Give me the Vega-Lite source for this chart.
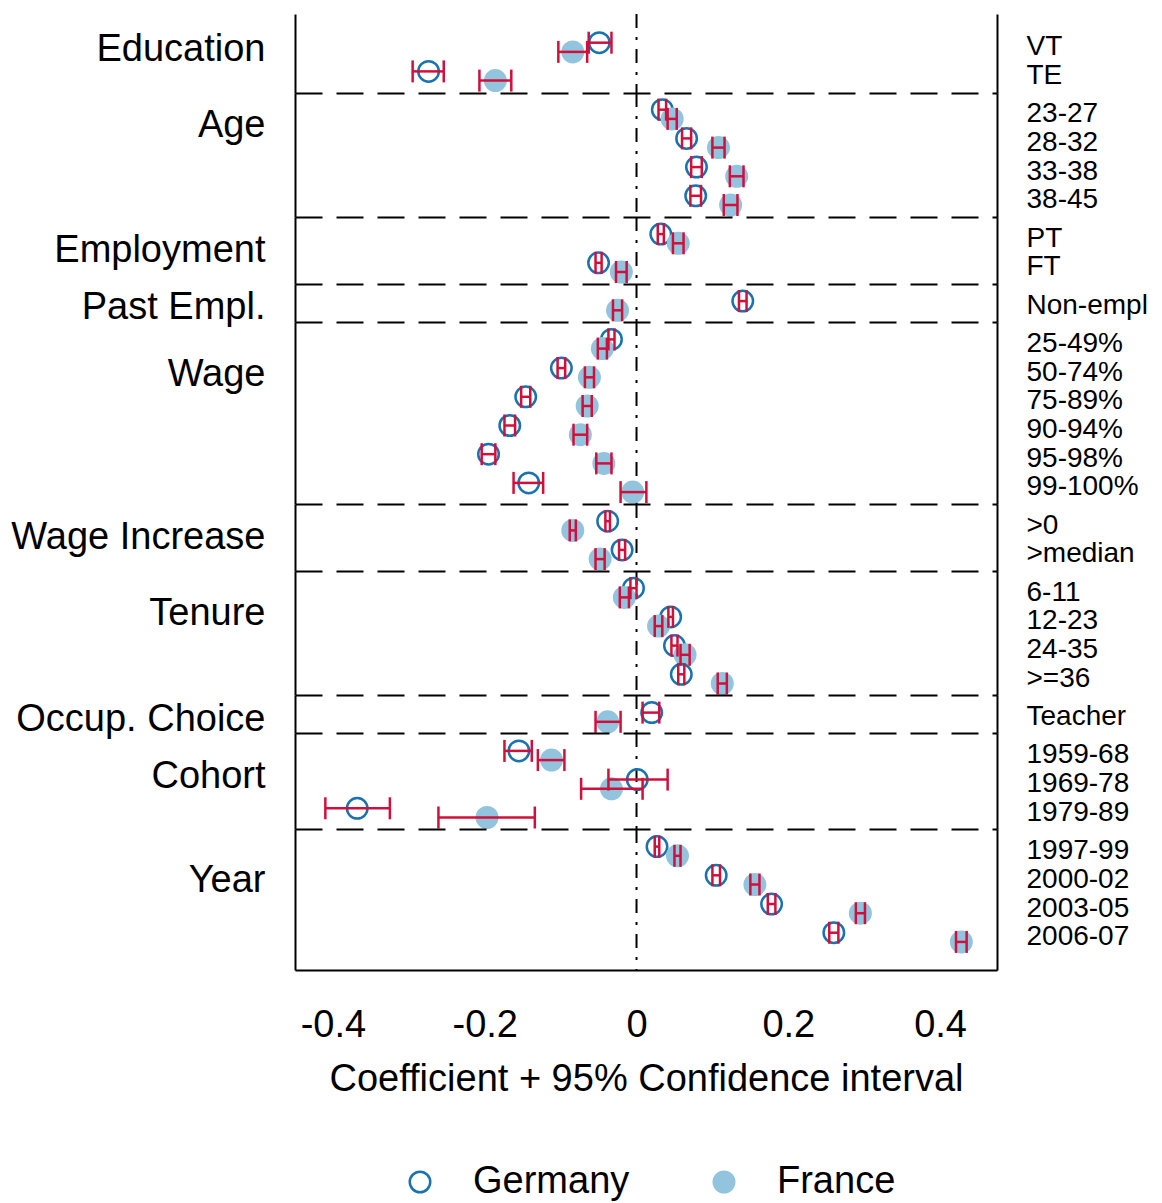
{
"$schema": "https://vega.github.io/schema/vega-lite/v6.json",
"padding": {"left": 10, "top": 13, "right": 0, "bottom": 0},
"background": "white",
"data": {"values": [
{"group":"Education","var":"VT","country":"Germany","coef":-0.049,"lo":-0.063,"hi":-0.033},
{"group":"Education","var":"VT","country":"France","coef":-0.084,"lo":-0.103,"hi":-0.065},
{"group":"Education","var":"TE","country":"Germany","coef":-0.274,"lo":-0.295,"hi":-0.254},
{"group":"Education","var":"TE","country":"France","coef":-0.186,"lo":-0.207,"hi":-0.165},
{"group":"Age","var":"23-27","country":"Germany","coef":0.034,"lo":0.029,"hi":0.039},
{"group":"Age","var":"23-27","country":"France","coef":0.047,"lo":0.041,"hi":0.053},
{"group":"Age","var":"28-32","country":"Germany","coef":0.066,"lo":0.060,"hi":0.072},
{"group":"Age","var":"28-32","country":"France","coef":0.108,"lo":0.100,"hi":0.116},
{"group":"Age","var":"33-38","country":"Germany","coef":0.079,"lo":0.072,"hi":0.086},
{"group":"Age","var":"33-38","country":"France","coef":0.132,"lo":0.123,"hi":0.141},
{"group":"Age","var":"38-45","country":"Germany","coef":0.078,"lo":0.071,"hi":0.085},
{"group":"Age","var":"38-45","country":"France","coef":0.124,"lo":0.115,"hi":0.133},
{"group":"Employment","var":"PT","country":"Germany","coef":0.032,"lo":0.028,"hi":0.036},
{"group":"Employment","var":"PT","country":"France","coef":0.055,"lo":0.048,"hi":0.062},
{"group":"Employment","var":"FT","country":"Germany","coef":-0.050,"lo":-0.054,"hi":-0.046},
{"group":"Employment","var":"FT","country":"France","coef":-0.020,"lo":-0.027,"hi":-0.013},
{"group":"Past Empl.","var":"Non-empl","country":"Germany","coef":0.140,"lo":0.135,"hi":0.145},
{"group":"Past Empl.","var":"Non-empl","country":"France","coef":-0.025,"lo":-0.031,"hi":-0.019},
{"group":"Wage","var":"25-49%","country":"Germany","coef":-0.033,"lo":-0.037,"hi":-0.029},
{"group":"Wage","var":"25-49%","country":"France","coef":-0.045,"lo":-0.051,"hi":-0.039},
{"group":"Wage","var":"50-74%","country":"Germany","coef":-0.099,"lo":-0.104,"hi":-0.094},
{"group":"Wage","var":"50-74%","country":"France","coef":-0.062,"lo":-0.068,"hi":-0.056},
{"group":"Wage","var":"75-89%","country":"Germany","coef":-0.146,"lo":-0.152,"hi":-0.140},
{"group":"Wage","var":"75-89%","country":"France","coef":-0.065,"lo":-0.071,"hi":-0.059},
{"group":"Wage","var":"90-94%","country":"Germany","coef":-0.167,"lo":-0.174,"hi":-0.160},
{"group":"Wage","var":"90-94%","country":"France","coef":-0.074,"lo":-0.083,"hi":-0.065},
{"group":"Wage","var":"95-98%","country":"Germany","coef":-0.195,"lo":-0.204,"hi":-0.186},
{"group":"Wage","var":"95-98%","country":"France","coef":-0.043,"lo":-0.053,"hi":-0.033},
{"group":"Wage","var":"99-100%","country":"Germany","coef":-0.142,"lo":-0.162,"hi":-0.123},
{"group":"Wage","var":"99-100%","country":"France","coef":-0.005,"lo":-0.021,"hi":0.013},
{"group":"Wage Increase","var":">0","country":"Germany","coef":-0.038,"lo":-0.041,"hi":-0.035},
{"group":"Wage Increase","var":">0","country":"France","coef":-0.084,"lo":-0.088,"hi":-0.080},
{"group":"Wage Increase","var":">median","country":"Germany","coef":-0.019,"lo":-0.023,"hi":-0.015},
{"group":"Wage Increase","var":">median","country":"France","coef":-0.048,"lo":-0.054,"hi":-0.042},
{"group":"Tenure","var":"6-11","country":"Germany","coef":-0.004,"lo":-0.008,"hi":0.000},
{"group":"Tenure","var":"6-11","country":"France","coef":-0.016,"lo":-0.022,"hi":-0.010},
{"group":"Tenure","var":"12-23","country":"Germany","coef":0.045,"lo":0.042,"hi":0.048},
{"group":"Tenure","var":"12-23","country":"France","coef":0.029,"lo":0.024,"hi":0.034},
{"group":"Tenure","var":"24-35","country":"Germany","coef":0.050,"lo":0.046,"hi":0.054},
{"group":"Tenure","var":"24-35","country":"France","coef":0.064,"lo":0.058,"hi":0.070},
{"group":"Tenure","var":">=36","country":"Germany","coef":0.059,"lo":0.055,"hi":0.063},
{"group":"Tenure","var":">=36","country":"France","coef":0.113,"lo":0.107,"hi":0.119},
{"group":"Occup. Choice","var":"Teacher","country":"Germany","coef":0.020,"lo":0.008,"hi":0.030},
{"group":"Occup. Choice","var":"Teacher","country":"France","coef":-0.038,"lo":-0.054,"hi":-0.021},
{"group":"Cohort","var":"1959-68","country":"Germany","coef":-0.155,"lo":-0.174,"hi":-0.138},
{"group":"Cohort","var":"1959-68","country":"France","coef":-0.112,"lo":-0.130,"hi":-0.095},
{"group":"Cohort","var":"1969-78","country":"Germany","coef":0.001,"lo":-0.037,"hi":0.041},
{"group":"Cohort","var":"1969-78","country":"France","coef":-0.033,"lo":-0.073,"hi":0.008},
{"group":"Cohort","var":"1979-89","country":"Germany","coef":-0.368,"lo":-0.410,"hi":-0.325},
{"group":"Cohort","var":"1979-89","country":"France","coef":-0.197,"lo":-0.261,"hi":-0.134},
{"group":"Year","var":"1997-99","country":"Germany","coef":0.027,"lo":0.024,"hi":0.030},
{"group":"Year","var":"1997-99","country":"France","coef":0.054,"lo":0.050,"hi":0.058},
{"group":"Year","var":"2000-02","country":"Germany","coef":0.105,"lo":0.100,"hi":0.110},
{"group":"Year","var":"2000-02","country":"France","coef":0.156,"lo":0.150,"hi":0.162},
{"group":"Year","var":"2003-05","country":"Germany","coef":0.178,"lo":0.173,"hi":0.183},
{"group":"Year","var":"2003-05","country":"France","coef":0.295,"lo":0.289,"hi":0.301},
{"group":"Year","var":"2006-07","country":"Germany","coef":0.260,"lo":0.254,"hi":0.266},
{"group":"Year","var":"2006-07","country":"France","coef":0.428,"lo":0.421,"hi":0.435}
]},
"spacing": 0,
"bounds": "flush",
"vconcat": [
{"width":702,"height":79,"transform":[{"filter":"datum.group === 'Education'"}],"resolve":{"axis":{"x":"independent","y":"independent"}},"layer":[
 {"data":{"values":[{"zero":0}]},"mark":{"type":"rule","color":"black","strokeWidth":2,"strokeDash":[14,9,3,9]},"encoding":{"x":{"field":"zero","type":"quantitative","scale":{"domain":[-0.45,0.475],"nice":false,"zero":false},"axis":null}}},
 {"mark":{"type":"point","shape":"circle","size":420,"strokeWidth":2.5,"opacity":1},"encoding":{"x":{"field":"coef","type":"quantitative","scale":{"domain":[-0.45,0.475],"nice":false,"zero":false},"axis":null},"y":{"field":"var","type":"nominal","sort":null,"scale":{"type":"band","paddingInner":0,"paddingOuter":0.376,"align":0.877},"axis":{"orient":"left","labels":false,"ticks":false,"domainColor":"black","domainWidth":2,"title":"Education","titleAngle":0,"titleAlign":"right","titleBaseline":"middle","titleX":-30,"titleY":35,"titleFontSize":38,"titleFontWeight":"normal"}},"yOffset":{"field":"country","type":"nominal","sort":["Germany","France"],"scale":{"type":"band","paddingInner":0,"paddingOuter":0.56}},"fill":{"field":"country","type":"nominal","scale":{"domain":["Germany","France"],"range":["transparent","#93c4de"]},"legend":{"title":null,"orient":"none","legendX":106,"legendY":1149,"direction":"horizontal","symbolSize":420,"symbolStrokeWidth":2.5,"labelFontSize":38,"labelOffset":34,"columnPadding":75,"labelLimit":0}},"stroke":{"field":"country","type":"nominal","scale":{"domain":["Germany","France"],"range":["#1a73b0","#93c4de"]},"legend":{"title":null,"orient":"none","legendX":106,"legendY":1149,"direction":"horizontal","symbolSize":420,"symbolStrokeWidth":2.5,"labelFontSize":38,"labelOffset":34,"columnPadding":75,"labelLimit":0}}}},
 {"mark":{"type":"rule","color":"#d0103a","strokeWidth":2.5},"encoding":{"x":{"field":"lo","type":"quantitative","scale":{"domain":[-0.45,0.475],"nice":false,"zero":false},"axis":null},"x2":{"field":"hi"},"y":{"field":"var","type":"nominal","sort":null,"scale":{"type":"band","paddingInner":0,"paddingOuter":0.376,"align":0.877},"axis":{"orient":"right","ticks":false,"tickSize":0,"labelPadding":29,"labelFontSize":28,"labelAlign":"left","labelBaseline":"middle","domainColor":"black","domainWidth":2,"title":null,"labelLimit":0}},"yOffset":{"field":"country","type":"nominal","sort":["Germany","France"],"scale":{"type":"band","paddingInner":0,"paddingOuter":0.56}}}},
 {"mark":{"type":"tick","orient":"vertical","size":22,"thickness":2.5,"color":"#d0103a","opacity":1},"encoding":{"x":{"field":"lo","type":"quantitative","scale":{"domain":[-0.45,0.475],"nice":false,"zero":false},"axis":null},"y":{"field":"var","type":"nominal","sort":null,"scale":{"type":"band","paddingInner":0,"paddingOuter":0.376,"align":0.877},"axis":null},"yOffset":{"field":"country","type":"nominal","sort":["Germany","France"],"scale":{"type":"band","paddingInner":0,"paddingOuter":0.56}}}},
 {"mark":{"type":"tick","orient":"vertical","size":22,"thickness":2.5,"color":"#d0103a","opacity":1},"encoding":{"x":{"field":"hi","type":"quantitative","scale":{"domain":[-0.45,0.475],"nice":false,"zero":false},"axis":null},"y":{"field":"var","type":"nominal","sort":null,"scale":{"type":"band","paddingInner":0,"paddingOuter":0.376,"align":0.877},"axis":null},"yOffset":{"field":"country","type":"nominal","sort":["Germany","France"],"scale":{"type":"band","paddingInner":0,"paddingOuter":0.56}}}}
]},
{"width":702,"height":124,"transform":[{"filter":"datum.group === 'Age'"}],"resolve":{"axis":{"x":"independent","y":"independent"}},"layer":[
 {"data":{"values":[{"zero":0}]},"mark":{"type":"rule","color":"black","strokeWidth":2,"strokeDash":[14,9,3,9]},"encoding":{"x":{"field":"zero","type":"quantitative","scale":{"domain":[-0.45,0.475],"nice":false,"zero":false},"axis":null}}},
 {"mark":{"type":"point","shape":"circle","size":420,"strokeWidth":2.5,"opacity":1},"encoding":{"x":{"field":"coef","type":"quantitative","scale":{"domain":[-0.45,0.475],"nice":false,"zero":false},"axis":{"orient":"top","domainDash":[27,14],"domainColor":"black","domainWidth":2,"ticks":false,"labels":false,"title":null}},"y":{"field":"var","type":"nominal","sort":null,"scale":{"type":"band","paddingInner":0,"paddingOuter":0.16,"align":0.755},"axis":{"orient":"left","labels":false,"ticks":false,"domainColor":"black","domainWidth":2,"title":"Age","titleAngle":0,"titleAlign":"right","titleBaseline":"middle","titleX":-30,"titleY":32,"titleFontSize":38,"titleFontWeight":"normal"}},"yOffset":{"field":"country","type":"nominal","sort":["Germany","France"],"scale":{"type":"band","paddingInner":0,"paddingOuter":0.56}},"fill":{"field":"country","type":"nominal","scale":{"domain":["Germany","France"],"range":["transparent","#93c4de"]},"legend":{"title":null,"orient":"none","legendX":106,"legendY":1149,"direction":"horizontal","symbolSize":420,"symbolStrokeWidth":2.5,"labelFontSize":38,"labelOffset":34,"columnPadding":75,"labelLimit":0}},"stroke":{"field":"country","type":"nominal","scale":{"domain":["Germany","France"],"range":["#1a73b0","#93c4de"]},"legend":{"title":null,"orient":"none","legendX":106,"legendY":1149,"direction":"horizontal","symbolSize":420,"symbolStrokeWidth":2.5,"labelFontSize":38,"labelOffset":34,"columnPadding":75,"labelLimit":0}}}},
 {"mark":{"type":"rule","color":"#d0103a","strokeWidth":2.5},"encoding":{"x":{"field":"lo","type":"quantitative","scale":{"domain":[-0.45,0.475],"nice":false,"zero":false},"axis":null},"x2":{"field":"hi"},"y":{"field":"var","type":"nominal","sort":null,"scale":{"type":"band","paddingInner":0,"paddingOuter":0.16,"align":0.755},"axis":{"orient":"right","ticks":false,"tickSize":0,"labelPadding":29,"labelFontSize":28,"labelAlign":"left","labelBaseline":"middle","domainColor":"black","domainWidth":2,"title":null,"labelLimit":0}},"yOffset":{"field":"country","type":"nominal","sort":["Germany","France"],"scale":{"type":"band","paddingInner":0,"paddingOuter":0.56}}}},
 {"mark":{"type":"tick","orient":"vertical","size":22,"thickness":2.5,"color":"#d0103a","opacity":1},"encoding":{"x":{"field":"lo","type":"quantitative","scale":{"domain":[-0.45,0.475],"nice":false,"zero":false},"axis":null},"y":{"field":"var","type":"nominal","sort":null,"scale":{"type":"band","paddingInner":0,"paddingOuter":0.16,"align":0.755},"axis":null},"yOffset":{"field":"country","type":"nominal","sort":["Germany","France"],"scale":{"type":"band","paddingInner":0,"paddingOuter":0.56}}}},
 {"mark":{"type":"tick","orient":"vertical","size":22,"thickness":2.5,"color":"#d0103a","opacity":1},"encoding":{"x":{"field":"hi","type":"quantitative","scale":{"domain":[-0.45,0.475],"nice":false,"zero":false},"axis":null},"y":{"field":"var","type":"nominal","sort":null,"scale":{"type":"band","paddingInner":0,"paddingOuter":0.16,"align":0.755},"axis":null},"yOffset":{"field":"country","type":"nominal","sort":["Germany","France"],"scale":{"type":"band","paddingInner":0,"paddingOuter":0.56}}}}
]},
{"width":702,"height":67,"transform":[{"filter":"datum.group === 'Employment'"}],"resolve":{"axis":{"x":"independent","y":"independent"}},"layer":[
 {"data":{"values":[{"zero":0}]},"mark":{"type":"rule","color":"black","strokeWidth":2,"strokeDash":[14,9,3,9]},"encoding":{"x":{"field":"zero","type":"quantitative","scale":{"domain":[-0.45,0.475],"nice":false,"zero":false},"axis":null}}},
 {"mark":{"type":"point","shape":"circle","size":420,"strokeWidth":2.5,"opacity":1},"encoding":{"x":{"field":"coef","type":"quantitative","scale":{"domain":[-0.45,0.475],"nice":false,"zero":false},"axis":{"orient":"top","domainDash":[27,14],"domainColor":"black","domainWidth":2,"ticks":false,"labels":false,"title":null}},"y":{"field":"var","type":"nominal","sort":null,"scale":{"type":"band","paddingInner":0,"paddingOuter":0.167,"align":0.766},"axis":{"orient":"left","labels":false,"ticks":false,"domainColor":"black","domainWidth":2,"title":"Employment","titleAngle":0,"titleAlign":"right","titleBaseline":"middle","titleX":-30,"titleY":33,"titleFontSize":38,"titleFontWeight":"normal"}},"yOffset":{"field":"country","type":"nominal","sort":["Germany","France"],"scale":{"type":"band","paddingInner":0,"paddingOuter":0.56}},"fill":{"field":"country","type":"nominal","scale":{"domain":["Germany","France"],"range":["transparent","#93c4de"]},"legend":{"title":null,"orient":"none","legendX":106,"legendY":1149,"direction":"horizontal","symbolSize":420,"symbolStrokeWidth":2.5,"labelFontSize":38,"labelOffset":34,"columnPadding":75,"labelLimit":0}},"stroke":{"field":"country","type":"nominal","scale":{"domain":["Germany","France"],"range":["#1a73b0","#93c4de"]},"legend":{"title":null,"orient":"none","legendX":106,"legendY":1149,"direction":"horizontal","symbolSize":420,"symbolStrokeWidth":2.5,"labelFontSize":38,"labelOffset":34,"columnPadding":75,"labelLimit":0}}}},
 {"mark":{"type":"rule","color":"#d0103a","strokeWidth":2.5},"encoding":{"x":{"field":"lo","type":"quantitative","scale":{"domain":[-0.45,0.475],"nice":false,"zero":false},"axis":null},"x2":{"field":"hi"},"y":{"field":"var","type":"nominal","sort":null,"scale":{"type":"band","paddingInner":0,"paddingOuter":0.167,"align":0.766},"axis":{"orient":"right","ticks":false,"tickSize":0,"labelPadding":29,"labelFontSize":28,"labelAlign":"left","labelBaseline":"middle","domainColor":"black","domainWidth":2,"title":null,"labelLimit":0}},"yOffset":{"field":"country","type":"nominal","sort":["Germany","France"],"scale":{"type":"band","paddingInner":0,"paddingOuter":0.56}}}},
 {"mark":{"type":"tick","orient":"vertical","size":22,"thickness":2.5,"color":"#d0103a","opacity":1},"encoding":{"x":{"field":"lo","type":"quantitative","scale":{"domain":[-0.45,0.475],"nice":false,"zero":false},"axis":null},"y":{"field":"var","type":"nominal","sort":null,"scale":{"type":"band","paddingInner":0,"paddingOuter":0.167,"align":0.766},"axis":null},"yOffset":{"field":"country","type":"nominal","sort":["Germany","France"],"scale":{"type":"band","paddingInner":0,"paddingOuter":0.56}}}},
 {"mark":{"type":"tick","orient":"vertical","size":22,"thickness":2.5,"color":"#d0103a","opacity":1},"encoding":{"x":{"field":"hi","type":"quantitative","scale":{"domain":[-0.45,0.475],"nice":false,"zero":false},"axis":null},"y":{"field":"var","type":"nominal","sort":null,"scale":{"type":"band","paddingInner":0,"paddingOuter":0.167,"align":0.766},"axis":null},"yOffset":{"field":"country","type":"nominal","sort":["Germany","France"],"scale":{"type":"band","paddingInner":0,"paddingOuter":0.56}}}}
]},
{"width":702,"height":38,"transform":[{"filter":"datum.group === 'Past Empl.'"}],"resolve":{"axis":{"x":"independent","y":"independent"}},"layer":[
 {"data":{"values":[{"zero":0}]},"mark":{"type":"rule","color":"black","strokeWidth":2,"strokeDash":[14,9,3,9]},"encoding":{"x":{"field":"zero","type":"quantitative","scale":{"domain":[-0.45,0.475],"nice":false,"zero":false},"axis":null}}},
 {"mark":{"type":"point","shape":"circle","size":420,"strokeWidth":2.5,"opacity":1},"encoding":{"x":{"field":"coef","type":"quantitative","scale":{"domain":[-0.45,0.475],"nice":false,"zero":false},"axis":{"orient":"top","domainDash":[27,14],"domainColor":"black","domainWidth":2,"ticks":false,"labels":false,"title":null}},"y":{"field":"var","type":"nominal","sort":null,"scale":{"type":"band","paddingInner":0,"paddingOuter":0.162,"align":0.79},"axis":{"orient":"left","labels":false,"ticks":false,"domainColor":"black","domainWidth":2,"title":"Past Empl.","titleAngle":0,"titleAlign":"right","titleBaseline":"middle","titleX":-30,"titleY":23,"titleFontSize":38,"titleFontWeight":"normal"}},"yOffset":{"field":"country","type":"nominal","sort":["Germany","France"],"scale":{"type":"band","paddingInner":0,"paddingOuter":0.56}},"fill":{"field":"country","type":"nominal","scale":{"domain":["Germany","France"],"range":["transparent","#93c4de"]},"legend":{"title":null,"orient":"none","legendX":106,"legendY":1149,"direction":"horizontal","symbolSize":420,"symbolStrokeWidth":2.5,"labelFontSize":38,"labelOffset":34,"columnPadding":75,"labelLimit":0}},"stroke":{"field":"country","type":"nominal","scale":{"domain":["Germany","France"],"range":["#1a73b0","#93c4de"]},"legend":{"title":null,"orient":"none","legendX":106,"legendY":1149,"direction":"horizontal","symbolSize":420,"symbolStrokeWidth":2.5,"labelFontSize":38,"labelOffset":34,"columnPadding":75,"labelLimit":0}}}},
 {"mark":{"type":"rule","color":"#d0103a","strokeWidth":2.5},"encoding":{"x":{"field":"lo","type":"quantitative","scale":{"domain":[-0.45,0.475],"nice":false,"zero":false},"axis":null},"x2":{"field":"hi"},"y":{"field":"var","type":"nominal","sort":null,"scale":{"type":"band","paddingInner":0,"paddingOuter":0.162,"align":0.79},"axis":{"orient":"right","ticks":false,"tickSize":0,"labelPadding":29,"labelFontSize":28,"labelAlign":"left","labelBaseline":"middle","domainColor":"black","domainWidth":2,"title":null,"labelLimit":0}},"yOffset":{"field":"country","type":"nominal","sort":["Germany","France"],"scale":{"type":"band","paddingInner":0,"paddingOuter":0.56}}}},
 {"mark":{"type":"tick","orient":"vertical","size":22,"thickness":2.5,"color":"#d0103a","opacity":1},"encoding":{"x":{"field":"lo","type":"quantitative","scale":{"domain":[-0.45,0.475],"nice":false,"zero":false},"axis":null},"y":{"field":"var","type":"nominal","sort":null,"scale":{"type":"band","paddingInner":0,"paddingOuter":0.162,"align":0.79},"axis":null},"yOffset":{"field":"country","type":"nominal","sort":["Germany","France"],"scale":{"type":"band","paddingInner":0,"paddingOuter":0.56}}}},
 {"mark":{"type":"tick","orient":"vertical","size":22,"thickness":2.5,"color":"#d0103a","opacity":1},"encoding":{"x":{"field":"hi","type":"quantitative","scale":{"domain":[-0.45,0.475],"nice":false,"zero":false},"axis":null},"y":{"field":"var","type":"nominal","sort":null,"scale":{"type":"band","paddingInner":0,"paddingOuter":0.162,"align":0.79},"axis":null},"yOffset":{"field":"country","type":"nominal","sort":["Germany","France"],"scale":{"type":"band","paddingInner":0,"paddingOuter":0.56}}}}
]},
{"width":702,"height":182,"transform":[{"filter":"datum.group === 'Wage'"}],"resolve":{"axis":{"x":"independent","y":"independent"}},"layer":[
 {"data":{"values":[{"zero":0}]},"mark":{"type":"rule","color":"black","strokeWidth":2,"strokeDash":[14,9,3,9]},"encoding":{"x":{"field":"zero","type":"quantitative","scale":{"domain":[-0.45,0.475],"nice":false,"zero":false},"axis":null}}},
 {"mark":{"type":"point","shape":"circle","size":420,"strokeWidth":2.5,"opacity":1},"encoding":{"x":{"field":"coef","type":"quantitative","scale":{"domain":[-0.45,0.475],"nice":false,"zero":false},"axis":{"orient":"top","domainDash":[27,14],"domainColor":"black","domainWidth":2,"ticks":false,"labels":false,"title":null}},"y":{"field":"var","type":"nominal","sort":null,"scale":{"type":"band","paddingInner":0,"paddingOuter":0.171,"align":0.78},"axis":{"orient":"left","labels":false,"ticks":false,"domainColor":"black","domainWidth":2,"title":"Wage","titleAngle":0,"titleAlign":"right","titleBaseline":"middle","titleX":-30,"titleY":52,"titleFontSize":38,"titleFontWeight":"normal"}},"yOffset":{"field":"country","type":"nominal","sort":["Germany","France"],"scale":{"type":"band","paddingInner":0,"paddingOuter":0.56}},"fill":{"field":"country","type":"nominal","scale":{"domain":["Germany","France"],"range":["transparent","#93c4de"]},"legend":{"title":null,"orient":"none","legendX":106,"legendY":1149,"direction":"horizontal","symbolSize":420,"symbolStrokeWidth":2.5,"labelFontSize":38,"labelOffset":34,"columnPadding":75,"labelLimit":0}},"stroke":{"field":"country","type":"nominal","scale":{"domain":["Germany","France"],"range":["#1a73b0","#93c4de"]},"legend":{"title":null,"orient":"none","legendX":106,"legendY":1149,"direction":"horizontal","symbolSize":420,"symbolStrokeWidth":2.5,"labelFontSize":38,"labelOffset":34,"columnPadding":75,"labelLimit":0}}}},
 {"mark":{"type":"rule","color":"#d0103a","strokeWidth":2.5},"encoding":{"x":{"field":"lo","type":"quantitative","scale":{"domain":[-0.45,0.475],"nice":false,"zero":false},"axis":null},"x2":{"field":"hi"},"y":{"field":"var","type":"nominal","sort":null,"scale":{"type":"band","paddingInner":0,"paddingOuter":0.171,"align":0.78},"axis":{"orient":"right","ticks":false,"tickSize":0,"labelPadding":29,"labelFontSize":28,"labelAlign":"left","labelBaseline":"middle","domainColor":"black","domainWidth":2,"title":null,"labelLimit":0}},"yOffset":{"field":"country","type":"nominal","sort":["Germany","France"],"scale":{"type":"band","paddingInner":0,"paddingOuter":0.56}}}},
 {"mark":{"type":"tick","orient":"vertical","size":22,"thickness":2.5,"color":"#d0103a","opacity":1},"encoding":{"x":{"field":"lo","type":"quantitative","scale":{"domain":[-0.45,0.475],"nice":false,"zero":false},"axis":null},"y":{"field":"var","type":"nominal","sort":null,"scale":{"type":"band","paddingInner":0,"paddingOuter":0.171,"align":0.78},"axis":null},"yOffset":{"field":"country","type":"nominal","sort":["Germany","France"],"scale":{"type":"band","paddingInner":0,"paddingOuter":0.56}}}},
 {"mark":{"type":"tick","orient":"vertical","size":22,"thickness":2.5,"color":"#d0103a","opacity":1},"encoding":{"x":{"field":"hi","type":"quantitative","scale":{"domain":[-0.45,0.475],"nice":false,"zero":false},"axis":null},"y":{"field":"var","type":"nominal","sort":null,"scale":{"type":"band","paddingInner":0,"paddingOuter":0.171,"align":0.78},"axis":null},"yOffset":{"field":"country","type":"nominal","sort":["Germany","France"],"scale":{"type":"band","paddingInner":0,"paddingOuter":0.56}}}}
]},
{"width":702,"height":67,"transform":[{"filter":"datum.group === 'Wage Increase'"}],"resolve":{"axis":{"x":"independent","y":"independent"}},"layer":[
 {"data":{"values":[{"zero":0}]},"mark":{"type":"rule","color":"black","strokeWidth":2,"strokeDash":[14,9,3,9]},"encoding":{"x":{"field":"zero","type":"quantitative","scale":{"domain":[-0.45,0.475],"nice":false,"zero":false},"axis":null}}},
 {"mark":{"type":"point","shape":"circle","size":420,"strokeWidth":2.5,"opacity":1},"encoding":{"x":{"field":"coef","type":"quantitative","scale":{"domain":[-0.45,0.475],"nice":false,"zero":false},"axis":{"orient":"top","domainDash":[27,14],"domainColor":"black","domainWidth":2,"ticks":false,"labels":false,"title":null}},"y":{"field":"var","type":"nominal","sort":null,"scale":{"type":"band","paddingInner":0,"paddingOuter":0.167,"align":0.776},"axis":{"orient":"left","labels":false,"ticks":false,"domainColor":"black","domainWidth":2,"title":"Wage Increase","titleAngle":0,"titleAlign":"right","titleBaseline":"middle","titleX":-30,"titleY":33,"titleFontSize":38,"titleFontWeight":"normal"}},"yOffset":{"field":"country","type":"nominal","sort":["Germany","France"],"scale":{"type":"band","paddingInner":0,"paddingOuter":0.56}},"fill":{"field":"country","type":"nominal","scale":{"domain":["Germany","France"],"range":["transparent","#93c4de"]},"legend":{"title":null,"orient":"none","legendX":106,"legendY":1149,"direction":"horizontal","symbolSize":420,"symbolStrokeWidth":2.5,"labelFontSize":38,"labelOffset":34,"columnPadding":75,"labelLimit":0}},"stroke":{"field":"country","type":"nominal","scale":{"domain":["Germany","France"],"range":["#1a73b0","#93c4de"]},"legend":{"title":null,"orient":"none","legendX":106,"legendY":1149,"direction":"horizontal","symbolSize":420,"symbolStrokeWidth":2.5,"labelFontSize":38,"labelOffset":34,"columnPadding":75,"labelLimit":0}}}},
 {"mark":{"type":"rule","color":"#d0103a","strokeWidth":2.5},"encoding":{"x":{"field":"lo","type":"quantitative","scale":{"domain":[-0.45,0.475],"nice":false,"zero":false},"axis":null},"x2":{"field":"hi"},"y":{"field":"var","type":"nominal","sort":null,"scale":{"type":"band","paddingInner":0,"paddingOuter":0.167,"align":0.776},"axis":{"orient":"right","ticks":false,"tickSize":0,"labelPadding":29,"labelFontSize":28,"labelAlign":"left","labelBaseline":"middle","domainColor":"black","domainWidth":2,"title":null,"labelLimit":0}},"yOffset":{"field":"country","type":"nominal","sort":["Germany","France"],"scale":{"type":"band","paddingInner":0,"paddingOuter":0.56}}}},
 {"mark":{"type":"tick","orient":"vertical","size":22,"thickness":2.5,"color":"#d0103a","opacity":1},"encoding":{"x":{"field":"lo","type":"quantitative","scale":{"domain":[-0.45,0.475],"nice":false,"zero":false},"axis":null},"y":{"field":"var","type":"nominal","sort":null,"scale":{"type":"band","paddingInner":0,"paddingOuter":0.167,"align":0.776},"axis":null},"yOffset":{"field":"country","type":"nominal","sort":["Germany","France"],"scale":{"type":"band","paddingInner":0,"paddingOuter":0.56}}}},
 {"mark":{"type":"tick","orient":"vertical","size":22,"thickness":2.5,"color":"#d0103a","opacity":1},"encoding":{"x":{"field":"hi","type":"quantitative","scale":{"domain":[-0.45,0.475],"nice":false,"zero":false},"axis":null},"y":{"field":"var","type":"nominal","sort":null,"scale":{"type":"band","paddingInner":0,"paddingOuter":0.167,"align":0.776},"axis":null},"yOffset":{"field":"country","type":"nominal","sort":["Germany","France"],"scale":{"type":"band","paddingInner":0,"paddingOuter":0.56}}}}
]},
{"width":702,"height":124,"transform":[{"filter":"datum.group === 'Tenure'"}],"resolve":{"axis":{"x":"independent","y":"independent"}},"layer":[
 {"data":{"values":[{"zero":0}]},"mark":{"type":"rule","color":"black","strokeWidth":2,"strokeDash":[14,9,3,9]},"encoding":{"x":{"field":"zero","type":"quantitative","scale":{"domain":[-0.45,0.475],"nice":false,"zero":false},"axis":null}}},
 {"mark":{"type":"point","shape":"circle","size":420,"strokeWidth":2.5,"opacity":1},"encoding":{"x":{"field":"coef","type":"quantitative","scale":{"domain":[-0.45,0.475],"nice":false,"zero":false},"axis":{"orient":"top","domainDash":[27,14],"domainColor":"black","domainWidth":2,"ticks":false,"labels":false,"title":null}},"y":{"field":"var","type":"nominal","sort":null,"scale":{"type":"band","paddingInner":0,"paddingOuter":0.16,"align":0.81},"axis":{"orient":"left","labels":false,"ticks":false,"domainColor":"black","domainWidth":2,"title":"Tenure","titleAngle":0,"titleAlign":"right","titleBaseline":"middle","titleX":-30,"titleY":42,"titleFontSize":38,"titleFontWeight":"normal"}},"yOffset":{"field":"country","type":"nominal","sort":["Germany","France"],"scale":{"type":"band","paddingInner":0,"paddingOuter":0.56}},"fill":{"field":"country","type":"nominal","scale":{"domain":["Germany","France"],"range":["transparent","#93c4de"]},"legend":{"title":null,"orient":"none","legendX":106,"legendY":1149,"direction":"horizontal","symbolSize":420,"symbolStrokeWidth":2.5,"labelFontSize":38,"labelOffset":34,"columnPadding":75,"labelLimit":0}},"stroke":{"field":"country","type":"nominal","scale":{"domain":["Germany","France"],"range":["#1a73b0","#93c4de"]},"legend":{"title":null,"orient":"none","legendX":106,"legendY":1149,"direction":"horizontal","symbolSize":420,"symbolStrokeWidth":2.5,"labelFontSize":38,"labelOffset":34,"columnPadding":75,"labelLimit":0}}}},
 {"mark":{"type":"rule","color":"#d0103a","strokeWidth":2.5},"encoding":{"x":{"field":"lo","type":"quantitative","scale":{"domain":[-0.45,0.475],"nice":false,"zero":false},"axis":null},"x2":{"field":"hi"},"y":{"field":"var","type":"nominal","sort":null,"scale":{"type":"band","paddingInner":0,"paddingOuter":0.16,"align":0.81},"axis":{"orient":"right","ticks":false,"tickSize":0,"labelPadding":29,"labelFontSize":28,"labelAlign":"left","labelBaseline":"middle","domainColor":"black","domainWidth":2,"title":null,"labelLimit":0}},"yOffset":{"field":"country","type":"nominal","sort":["Germany","France"],"scale":{"type":"band","paddingInner":0,"paddingOuter":0.56}}}},
 {"mark":{"type":"tick","orient":"vertical","size":22,"thickness":2.5,"color":"#d0103a","opacity":1},"encoding":{"x":{"field":"lo","type":"quantitative","scale":{"domain":[-0.45,0.475],"nice":false,"zero":false},"axis":null},"y":{"field":"var","type":"nominal","sort":null,"scale":{"type":"band","paddingInner":0,"paddingOuter":0.16,"align":0.81},"axis":null},"yOffset":{"field":"country","type":"nominal","sort":["Germany","France"],"scale":{"type":"band","paddingInner":0,"paddingOuter":0.56}}}},
 {"mark":{"type":"tick","orient":"vertical","size":22,"thickness":2.5,"color":"#d0103a","opacity":1},"encoding":{"x":{"field":"hi","type":"quantitative","scale":{"domain":[-0.45,0.475],"nice":false,"zero":false},"axis":null},"y":{"field":"var","type":"nominal","sort":null,"scale":{"type":"band","paddingInner":0,"paddingOuter":0.16,"align":0.81},"axis":null},"yOffset":{"field":"country","type":"nominal","sort":["Germany","France"],"scale":{"type":"band","paddingInner":0,"paddingOuter":0.56}}}}
]},
{"width":702,"height":38,"transform":[{"filter":"datum.group === 'Occup. Choice'"}],"resolve":{"axis":{"x":"independent","y":"independent"}},"layer":[
 {"data":{"values":[{"zero":0}]},"mark":{"type":"rule","color":"black","strokeWidth":2,"strokeDash":[14,9,3,9]},"encoding":{"x":{"field":"zero","type":"quantitative","scale":{"domain":[-0.45,0.475],"nice":false,"zero":false},"axis":null}}},
 {"mark":{"type":"point","shape":"circle","size":420,"strokeWidth":2.5,"opacity":1},"encoding":{"x":{"field":"coef","type":"quantitative","scale":{"domain":[-0.45,0.475],"nice":false,"zero":false},"axis":{"orient":"top","domainDash":[27,14],"domainColor":"black","domainWidth":2,"ticks":false,"labels":false,"title":null}},"y":{"field":"var","type":"nominal","sort":null,"scale":{"type":"band","paddingInner":0,"paddingOuter":0.162,"align":0.844},"axis":{"orient":"left","labels":false,"ticks":false,"domainColor":"black","domainWidth":2,"title":"Occup. Choice","titleAngle":0,"titleAlign":"right","titleBaseline":"middle","titleX":-30,"titleY":24,"titleFontSize":38,"titleFontWeight":"normal"}},"yOffset":{"field":"country","type":"nominal","sort":["Germany","France"],"scale":{"type":"band","paddingInner":0,"paddingOuter":0.56}},"fill":{"field":"country","type":"nominal","scale":{"domain":["Germany","France"],"range":["transparent","#93c4de"]},"legend":{"title":null,"orient":"none","legendX":106,"legendY":1149,"direction":"horizontal","symbolSize":420,"symbolStrokeWidth":2.5,"labelFontSize":38,"labelOffset":34,"columnPadding":75,"labelLimit":0}},"stroke":{"field":"country","type":"nominal","scale":{"domain":["Germany","France"],"range":["#1a73b0","#93c4de"]},"legend":{"title":null,"orient":"none","legendX":106,"legendY":1149,"direction":"horizontal","symbolSize":420,"symbolStrokeWidth":2.5,"labelFontSize":38,"labelOffset":34,"columnPadding":75,"labelLimit":0}}}},
 {"mark":{"type":"rule","color":"#d0103a","strokeWidth":2.5},"encoding":{"x":{"field":"lo","type":"quantitative","scale":{"domain":[-0.45,0.475],"nice":false,"zero":false},"axis":null},"x2":{"field":"hi"},"y":{"field":"var","type":"nominal","sort":null,"scale":{"type":"band","paddingInner":0,"paddingOuter":0.162,"align":0.844},"axis":{"orient":"right","ticks":false,"tickSize":0,"labelPadding":29,"labelFontSize":28,"labelAlign":"left","labelBaseline":"middle","domainColor":"black","domainWidth":2,"title":null,"labelLimit":0}},"yOffset":{"field":"country","type":"nominal","sort":["Germany","France"],"scale":{"type":"band","paddingInner":0,"paddingOuter":0.56}}}},
 {"mark":{"type":"tick","orient":"vertical","size":22,"thickness":2.5,"color":"#d0103a","opacity":1},"encoding":{"x":{"field":"lo","type":"quantitative","scale":{"domain":[-0.45,0.475],"nice":false,"zero":false},"axis":null},"y":{"field":"var","type":"nominal","sort":null,"scale":{"type":"band","paddingInner":0,"paddingOuter":0.162,"align":0.844},"axis":null},"yOffset":{"field":"country","type":"nominal","sort":["Germany","France"],"scale":{"type":"band","paddingInner":0,"paddingOuter":0.56}}}},
 {"mark":{"type":"tick","orient":"vertical","size":22,"thickness":2.5,"color":"#d0103a","opacity":1},"encoding":{"x":{"field":"hi","type":"quantitative","scale":{"domain":[-0.45,0.475],"nice":false,"zero":false},"axis":null},"y":{"field":"var","type":"nominal","sort":null,"scale":{"type":"band","paddingInner":0,"paddingOuter":0.162,"align":0.844},"axis":null},"yOffset":{"field":"country","type":"nominal","sort":["Germany","France"],"scale":{"type":"band","paddingInner":0,"paddingOuter":0.56}}}}
]},
{"width":702,"height":96,"transform":[{"filter":"datum.group === 'Cohort'"}],"resolve":{"axis":{"x":"independent","y":"independent"}},"layer":[
 {"data":{"values":[{"zero":0}]},"mark":{"type":"rule","color":"black","strokeWidth":2,"strokeDash":[14,9,3,9]},"encoding":{"x":{"field":"zero","type":"quantitative","scale":{"domain":[-0.45,0.475],"nice":false,"zero":false},"axis":null}}},
 {"mark":{"type":"point","shape":"circle","size":420,"strokeWidth":2.5,"opacity":1},"encoding":{"x":{"field":"coef","type":"quantitative","scale":{"domain":[-0.45,0.475],"nice":false,"zero":false},"axis":{"orient":"top","domainDash":[27,14],"domainColor":"black","domainWidth":2,"ticks":false,"labels":false,"title":null}},"y":{"field":"var","type":"nominal","sort":null,"scale":{"type":"band","paddingInner":0,"paddingOuter":0.172,"align":0.823},"axis":{"orient":"left","labels":false,"ticks":false,"domainColor":"black","domainWidth":2,"title":"Cohort","titleAngle":0,"titleAlign":"right","titleBaseline":"middle","titleX":-30,"titleY":43,"titleFontSize":38,"titleFontWeight":"normal"}},"yOffset":{"field":"country","type":"nominal","sort":["Germany","France"],"scale":{"type":"band","paddingInner":0,"paddingOuter":0.56}},"fill":{"field":"country","type":"nominal","scale":{"domain":["Germany","France"],"range":["transparent","#93c4de"]},"legend":{"title":null,"orient":"none","legendX":106,"legendY":1149,"direction":"horizontal","symbolSize":420,"symbolStrokeWidth":2.5,"labelFontSize":38,"labelOffset":34,"columnPadding":75,"labelLimit":0}},"stroke":{"field":"country","type":"nominal","scale":{"domain":["Germany","France"],"range":["#1a73b0","#93c4de"]},"legend":{"title":null,"orient":"none","legendX":106,"legendY":1149,"direction":"horizontal","symbolSize":420,"symbolStrokeWidth":2.5,"labelFontSize":38,"labelOffset":34,"columnPadding":75,"labelLimit":0}}}},
 {"mark":{"type":"rule","color":"#d0103a","strokeWidth":2.5},"encoding":{"x":{"field":"lo","type":"quantitative","scale":{"domain":[-0.45,0.475],"nice":false,"zero":false},"axis":null},"x2":{"field":"hi"},"y":{"field":"var","type":"nominal","sort":null,"scale":{"type":"band","paddingInner":0,"paddingOuter":0.172,"align":0.823},"axis":{"orient":"right","ticks":false,"tickSize":0,"labelPadding":29,"labelFontSize":28,"labelAlign":"left","labelBaseline":"middle","domainColor":"black","domainWidth":2,"title":null,"labelLimit":0}},"yOffset":{"field":"country","type":"nominal","sort":["Germany","France"],"scale":{"type":"band","paddingInner":0,"paddingOuter":0.56}}}},
 {"mark":{"type":"tick","orient":"vertical","size":22,"thickness":2.5,"color":"#d0103a","opacity":1},"encoding":{"x":{"field":"lo","type":"quantitative","scale":{"domain":[-0.45,0.475],"nice":false,"zero":false},"axis":null},"y":{"field":"var","type":"nominal","sort":null,"scale":{"type":"band","paddingInner":0,"paddingOuter":0.172,"align":0.823},"axis":null},"yOffset":{"field":"country","type":"nominal","sort":["Germany","France"],"scale":{"type":"band","paddingInner":0,"paddingOuter":0.56}}}},
 {"mark":{"type":"tick","orient":"vertical","size":22,"thickness":2.5,"color":"#d0103a","opacity":1},"encoding":{"x":{"field":"hi","type":"quantitative","scale":{"domain":[-0.45,0.475],"nice":false,"zero":false},"axis":null},"y":{"field":"var","type":"nominal","sort":null,"scale":{"type":"band","paddingInner":0,"paddingOuter":0.172,"align":0.823},"axis":null},"yOffset":{"field":"country","type":"nominal","sort":["Germany","France"],"scale":{"type":"band","paddingInner":0,"paddingOuter":0.56}}}}
]},
{"width":702,"height":141,"transform":[{"filter":"datum.group === 'Year'"}],"resolve":{"axis":{"x":"independent","y":"independent"}},"layer":[
 {"data":{"values":[{"zero":0}]},"mark":{"type":"rule","color":"black","strokeWidth":2,"strokeDash":[14,9,3,9]},"encoding":{"x":{"field":"zero","type":"quantitative","scale":{"domain":[-0.45,0.475],"nice":false,"zero":false},"axis":null}}},
 {"mark":{"type":"point","shape":"circle","size":420,"strokeWidth":2.5,"opacity":1},"encoding":{"x":{"field":"coef","type":"quantitative","scale":{"domain":[-0.45,0.475],"nice":false,"zero":false},"axis":{"orient":"top","domainDash":[27,14],"domainColor":"black","domainWidth":2,"ticks":false,"labels":false,"title":null}},"y":{"field":"var","type":"nominal","sort":null,"scale":{"type":"band","paddingInner":0,"paddingOuter":0.456,"align":0.30},"axis":{"orient":"left","labels":false,"ticks":false,"domainColor":"black","domainWidth":2,"title":"Year","titleAngle":0,"titleAlign":"right","titleBaseline":"middle","titleX":-30,"titleY":51,"titleFontSize":38,"titleFontWeight":"normal"}},"yOffset":{"field":"country","type":"nominal","sort":["Germany","France"],"scale":{"type":"band","paddingInner":0,"paddingOuter":0.56}},"fill":{"field":"country","type":"nominal","scale":{"domain":["Germany","France"],"range":["transparent","#93c4de"]},"legend":{"title":null,"orient":"none","legendX":106,"legendY":1149,"direction":"horizontal","symbolSize":420,"symbolStrokeWidth":2.5,"labelFontSize":38,"labelOffset":34,"columnPadding":75,"labelLimit":0}},"stroke":{"field":"country","type":"nominal","scale":{"domain":["Germany","France"],"range":["#1a73b0","#93c4de"]},"legend":{"title":null,"orient":"none","legendX":106,"legendY":1149,"direction":"horizontal","symbolSize":420,"symbolStrokeWidth":2.5,"labelFontSize":38,"labelOffset":34,"columnPadding":75,"labelLimit":0}}}},
 {"mark":{"type":"rule","color":"#d0103a","strokeWidth":2.5},"encoding":{"x":{"field":"lo","type":"quantitative","scale":{"domain":[-0.45,0.475],"nice":false,"zero":false},"axis":null},"x2":{"field":"hi"},"y":{"field":"var","type":"nominal","sort":null,"scale":{"type":"band","paddingInner":0,"paddingOuter":0.456,"align":0.30},"axis":{"orient":"right","ticks":false,"tickSize":0,"labelPadding":29,"labelFontSize":28,"labelAlign":"left","labelBaseline":"middle","domainColor":"black","domainWidth":2,"title":null,"labelLimit":0}},"yOffset":{"field":"country","type":"nominal","sort":["Germany","France"],"scale":{"type":"band","paddingInner":0,"paddingOuter":0.56}}}},
 {"mark":{"type":"tick","orient":"vertical","size":22,"thickness":2.5,"color":"#d0103a","opacity":1},"encoding":{"x":{"field":"lo","type":"quantitative","scale":{"domain":[-0.45,0.475],"nice":false,"zero":false},"axis":{"orient":"bottom","values":[-0.4,-0.2,0,0.2,0.4],"labelExpr":"datum.value == 0 ? '0' : (datum.value < 0 ? '-' + format(-datum.value, '.1f') : format(datum.value, '.1f'))","ticks":false,"tickSize":0,"domainColor":"black","domainWidth":2,"labelFontSize":38,"labelPadding":36,"labelFlush":false,"labelOverlap":false,"title":"Coefficient + 95% Confidence interval","titleFontSize":38,"titleFontWeight":"normal","titlePadding":16}},"y":{"field":"var","type":"nominal","sort":null,"scale":{"type":"band","paddingInner":0,"paddingOuter":0.456,"align":0.30},"axis":null},"yOffset":{"field":"country","type":"nominal","sort":["Germany","France"],"scale":{"type":"band","paddingInner":0,"paddingOuter":0.56}}}},
 {"mark":{"type":"tick","orient":"vertical","size":22,"thickness":2.5,"color":"#d0103a","opacity":1},"encoding":{"x":{"field":"hi","type":"quantitative","scale":{"domain":[-0.45,0.475],"nice":false,"zero":false},"axis":null},"y":{"field":"var","type":"nominal","sort":null,"scale":{"type":"band","paddingInner":0,"paddingOuter":0.456,"align":0.30},"axis":null},"yOffset":{"field":"country","type":"nominal","sort":["Germany","France"],"scale":{"type":"band","paddingInner":0,"paddingOuter":0.56}}}}
]}
],
"config": {
 "view": {"stroke": null},
 "font": "Liberation Sans",
 "axis": {"grid": false, "labelFont": "Liberation Sans", "titleFont": "Liberation Sans", "labelColor": "black", "titleColor": "black"},
 "legend": {"labelFont": "Liberation Sans", "labelColor": "black"}
}
}
